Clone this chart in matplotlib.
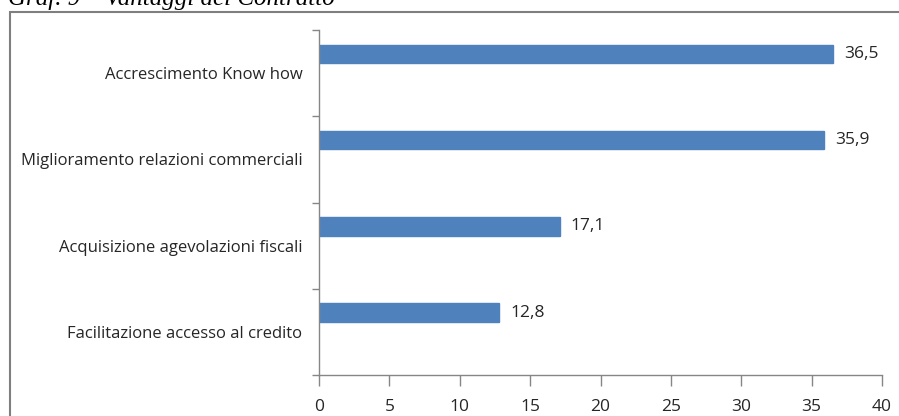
import matplotlib
matplotlib.use("Agg")
import matplotlib.pyplot as plt
from matplotlib.patches import Rectangle

categories = ["Facilitazione accesso al credito",
              "Acquisizione agevolazioni fiscali",
              "Miglioramento relazioni commerciali",
              "Accrescimento Know how"]
values = [12.8, 17.1, 35.9, 36.5]
value_labels = ["12,8", "17,1", "35,9", "36,5"]
xticks = [0, 5, 10, 15, 20, 25, 30, 35, 40]
title = "Graf. 9 – Vantaggi del Contratto"

W, H = 899, 416
fig = plt.figure(figsize=(W / 100, H / 100), dpi=100)
fig.patch.set_facecolor("white")

# outer frame (cut off at right and bottom)
fig.add_artist(Rectangle((10 / W, -0.05), 1.0, 1 - 12 / H + 0.05,
                         transform=fig.transFigure, fill=False,
                         edgecolor="#7f7f7f", linewidth=1.5))
fig.text(8 / W, 1 - 5 / H, title, fontsize=18, family="Liberation Serif",
         style="italic", color="black", va="baseline", ha="left")

left, right, top, bottom = 319 / W, 882 / W, 1 - 30 / H, 1 - 375 / H
ax = fig.add_axes([left, bottom, right - left, top - bottom])

pos = list(range(len(categories)))
bar_pos = [p + 0.222 for p in pos]
ax.barh(bar_pos, values, height=0.215, color="#4f81bd", edgecolor="#4f81bd")

ax.set_xlim(0, 40)
ax.set_ylim(-0.5, len(categories) - 0.5)
ax.set_xticks(xticks)
ax.set_xticklabels([str(t) for t in xticks])
ax.set_yticks([p - 0.5 for p in pos] + [len(categories) - 0.5])
ax.set_yticklabels([])
ax.set_yticks(pos, minor=True)
ax.set_yticklabels(categories, minor=True)

ax.tick_params(axis="y", which="major", length=5, width=1, color="#868686", direction="out")
ax.tick_params(axis="y", which="minor", length=0, pad=12, labelsize=12, labelcolor="#262626")
ax.tick_params(axis="x", which="major", length=8, width=1, color="#868686", direction="out",
               labelsize=12.5, labelcolor="#262626", pad=9)
for lab in ax.get_yticklabels(minor=True) + ax.get_xticklabels():
    lab.set_family("Open Sans")

for s in ["top", "right"]:
    ax.spines[s].set_visible(False)
for s in ["left", "bottom"]:
    ax.spines[s].set_color("#868686")
    ax.spines[s].set_linewidth(1)

for bp, v, lab in zip(bar_pos, values, value_labels):
    ax.annotate(lab, (v, bp), xytext=(8, 0), textcoords="offset points",
                va="center", ha="left", fontsize=12.5, family="Open Sans", color="#262626")

fig.savefig("out.png", dpi=100)
